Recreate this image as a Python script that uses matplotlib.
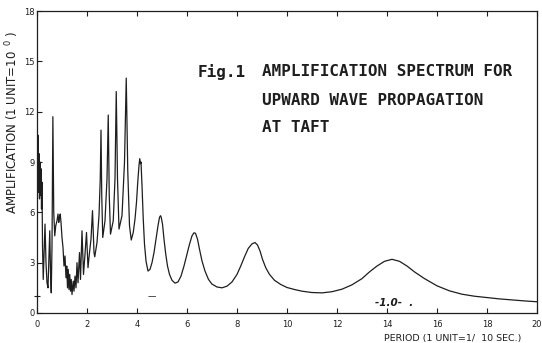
import matplotlib
matplotlib.use("Agg")
import matplotlib.pyplot as plt

# ---- data: period (1 unit = 1/10 s) vs amplification ----
period_noisy = [0.00, 0.02, 0.04, 0.06, 0.08, 0.10, 0.12, 0.14, 0.16, 0.18, 0.20,
                0.22, 0.25, 0.28, 0.32, 0.36, 0.40, 0.44, 0.48, 0.51, 0.54, 0.57,
                0.60, 0.635, 0.67, 0.71, 0.75, 0.80, 0.84, 0.87, 0.90, 0.93, 0.96,
                1.00, 1.04, 1.08, 1.12, 1.16, 1.19, 1.22, 1.25, 1.28, 1.31, 1.34,
                1.37, 1.40, 1.45, 1.48, 1.52, 1.56, 1.60, 1.64, 1.70, 1.74, 1.80,
                1.86, 1.92, 1.98, 2.04, 2.10, 2.16, 2.22, 2.28]
amp_noisy = [5.7, 8.5, 10.6, 7.2, 9.5, 6.8, 9.0, 7.0, 8.6, 6.2, 7.8,
             4.0, 2.0, 3.5, 5.3, 3.0, 1.8, 1.5, 3.5, 4.9, 2.5, 1.2,
             4.0, 11.7, 6.0, 4.6, 5.2, 5.5, 5.9, 5.4, 5.7, 5.9, 5.4,
             4.5, 3.9, 2.8, 3.4, 2.1, 2.8, 1.5, 2.6, 1.4, 2.3, 1.3,
             2.0, 1.1, 1.9, 1.3, 2.2, 1.5, 3.0, 1.8, 3.6, 2.0, 4.9,
             2.3, 3.5, 4.8, 2.7, 3.6, 4.4, 6.1, 3.6]

period_sharp = [2.31, 2.40, 2.48, 2.53, 2.56, 2.59, 2.63, 2.72, 2.80, 2.85,
                2.89, 2.94, 3.05, 3.12, 3.17, 3.22, 3.28, 3.40, 3.50, 3.57,
                3.63, 3.70]
amp_sharp = [3.35, 4.2, 5.8, 8.0, 10.9, 7.0, 4.5, 5.5, 8.0, 11.8,
             7.0, 4.7, 5.5, 8.0, 13.2, 8.0, 5.0, 5.8, 9.0, 14.0,
             8.5, 5.2]

period_smooth = [3.77, 3.85, 3.92, 3.98, 4.03, 4.08, 4.11, 4.14, 4.16, 4.20,
                 4.25, 4.30, 4.36, 4.44, 4.52, 4.60, 4.68, 4.76, 4.84, 4.90,
                 4.94, 4.97, 5.02, 5.08, 5.15, 5.22, 5.30, 5.40, 5.52, 5.64,
                 5.76, 5.88, 6.00, 6.10, 6.20, 6.28, 6.34, 6.42, 6.50, 6.60,
                 6.72, 6.86, 7.00, 7.20, 7.40, 7.60, 7.80, 8.00, 8.15, 8.30,
                 8.45, 8.60, 8.72, 8.82, 8.92, 9.02, 9.15, 9.30, 9.50, 9.75,
                 10.0, 10.3, 10.6, 11.0, 11.4, 11.8, 12.2, 12.6, 13.0, 13.3,
                 13.6, 13.9, 14.2, 14.5, 14.8, 15.1, 15.5, 16.0, 16.5, 17.0,
                 17.5, 18.0, 18.5, 19.0, 19.5, 20.0]
amp_smooth = [4.35, 4.8, 5.6, 6.6, 7.8, 8.8, 9.2, 8.9, 9.0, 7.6,
              5.6, 4.1, 3.1, 2.5, 2.6, 3.0, 3.6, 4.4, 5.2, 5.7,
              5.8, 5.7, 5.3, 4.4, 3.5, 2.8, 2.3, 1.95, 1.78, 1.85,
              2.2, 2.8, 3.5, 4.1, 4.6, 4.78, 4.75, 4.4, 3.8, 3.1,
              2.5, 2.0, 1.72, 1.55, 1.5, 1.6, 1.85, 2.3, 2.8, 3.35,
              3.85, 4.12, 4.2, 4.05, 3.7, 3.2, 2.7, 2.3, 1.95, 1.7,
              1.52, 1.4, 1.3, 1.22, 1.2, 1.27, 1.42, 1.68, 2.05, 2.45,
              2.8, 3.08, 3.2, 3.08, 2.8, 2.45, 2.05, 1.62, 1.32, 1.12,
              1.0, 0.92, 0.84, 0.78, 0.72, 0.67]

x_ticks = [0, 2, 4, 6, 8, 10, 12, 14, 16, 18, 20]
y_ticks = [0, 3, 6, 9, 12, 15, 18]

period = period_noisy + period_sharp + period_smooth
amp = amp_noisy + amp_sharp + amp_smooth

ink = "#1e1e1e"
fig = plt.figure(figsize=(5.42, 3.43), dpi=100)
ax = fig.add_axes([37 / 542, 1 - 313 / 343, 500 / 542, 302 / 343])
ax.plot(period, amp, color=ink, lw=0.9)

ax.set_xlim(0, 20)
ax.set_ylim(0, 18)
ax.set_xticks(x_ticks)
ax.set_yticks(y_ticks)
ax.set_xticklabels([str(v) for v in x_ticks])
ax.set_yticklabels([str(v) for v in y_ticks])
ax.set_yticks([1], minor=True)
ax.tick_params(axis="both", which="major", direction="in", length=3.5,
               width=0.8, labelsize=6, colors=ink)
ax.tick_params(axis="y", which="minor", direction="inout", length=5, width=0.8,
               colors=ink)
ax.tick_params(axis="x", which="major", pad=5)
ax.tick_params(axis="y", which="major", pad=1.5)
ax.tick_params(top=True, right=False)
for s in ax.spines.values():
    s.set_color(ink)
    s.set_linewidth(0.9)

ax.set_ylabel(r"AMPLIFICATION (1 UNIT=10$^{\ \ 0}$ )", fontsize=8.5,
              color=ink)
ax.yaxis.set_label_coords(-0.032, 0.63)
fig.text(521 / 542, 1 - 338 / 343, "PERIOD (1 UNIT=1/  10 SEC.)",
         fontsize=6.8, ha="right", va="center", color=ink)

title_kw = dict(family="DejaVu Sans Mono", fontweight="bold", fontsize=11.5,
                color=ink, va="center", ha="left")
fig.text(198 / 542, 1 - 72 / 343, "Fig.1", **title_kw)
fig.text(262 / 542, 1 - 72 / 343, "AMPLIFICATION SPECTRUM FOR", **title_kw)
fig.text(262 / 542, 1 - 100 / 343, "UPWARD WAVE PROPAGATION", **title_kw)
fig.text(262 / 542, 1 - 127 / 343, "AT TAFT", **title_kw)

ax.text(14.3, 0.6, "-1.0-  .", fontsize=7.5, fontweight="bold",
        style="italic", color=ink, ha="center", va="center")
ax.text(4.6, 1.0, "\u2014", fontsize=6, color=ink, ha="center", va="center")

fig.savefig("out.png", dpi=100, facecolor="white")
